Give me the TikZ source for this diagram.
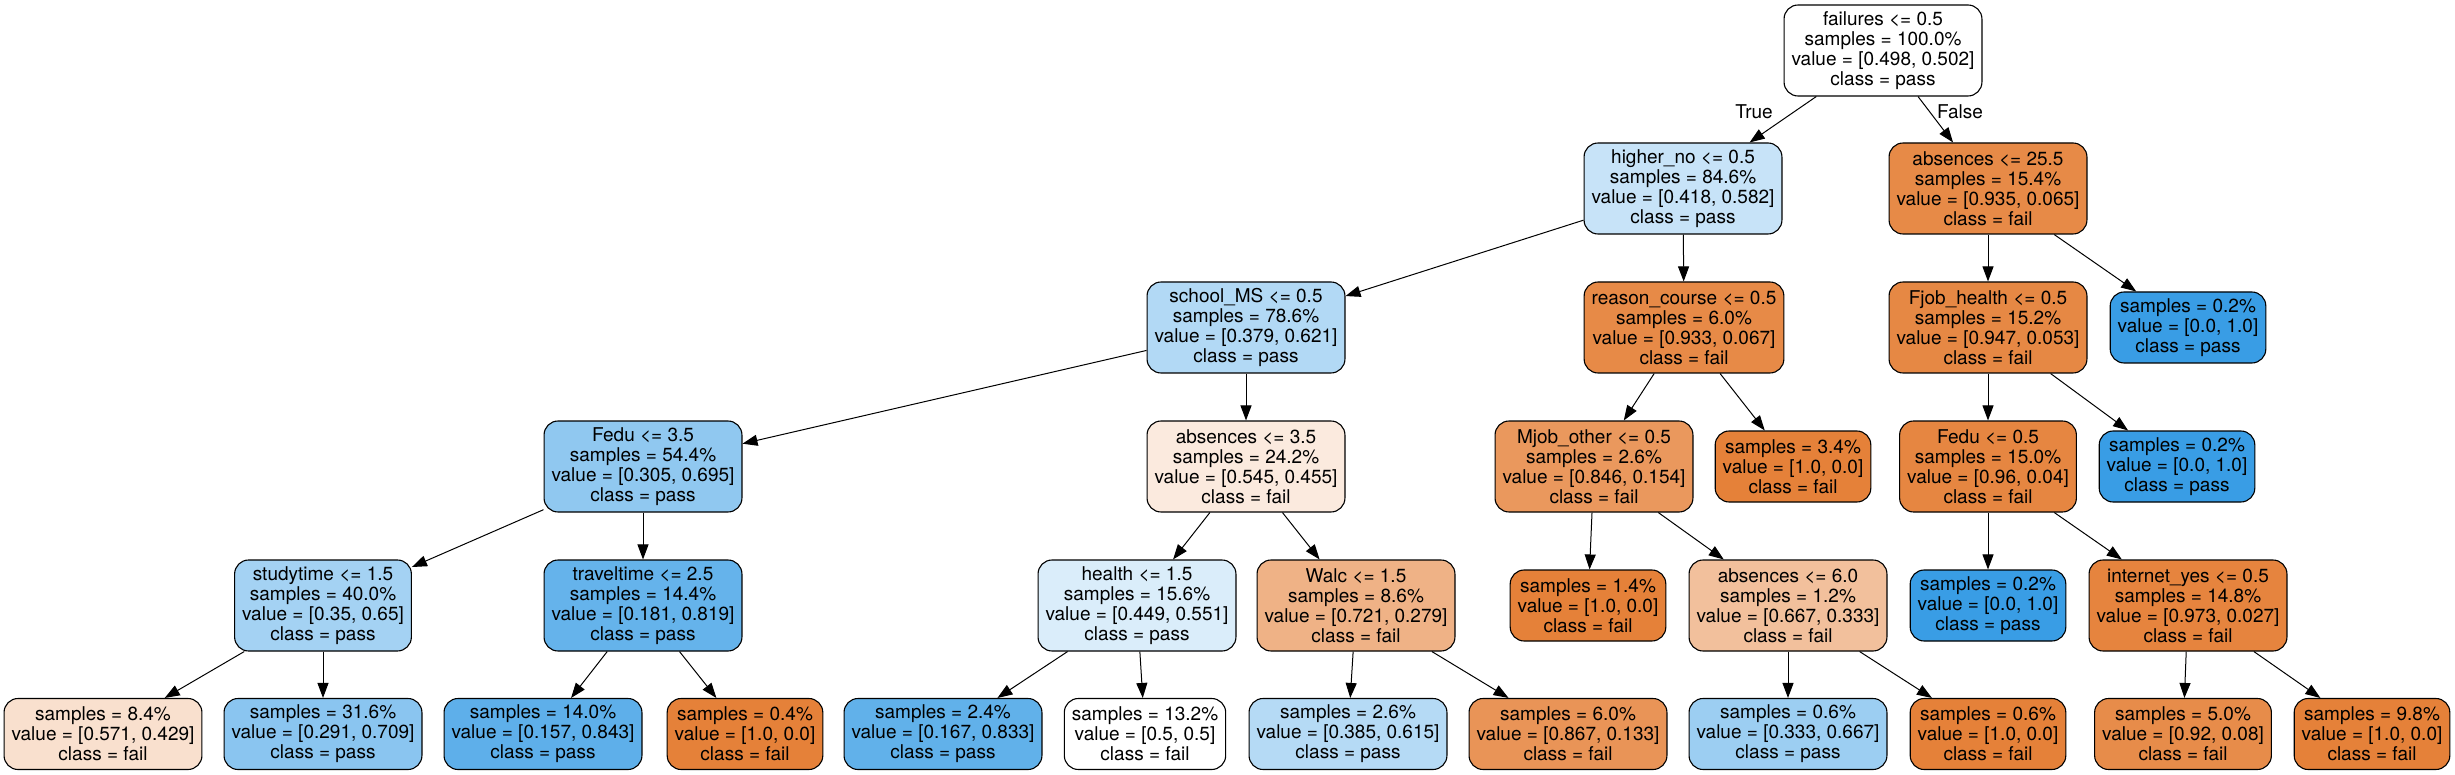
\documentclass[tikz,border=0pt]{standalone}
\usepackage{fontspec}
\setmainfont{TeX Gyre Heros}
\usetikzlibrary{arrows.meta}
\definecolor{cW}{RGB}{255,255,255}
\definecolor{cHigh}{RGB}{199,227,248}
\definecolor{cAbsA}{RGB}{231,138,71}
\definecolor{cSch}{RGB}{178,217,245}
\definecolor{cReas}{RGB}{231,138,71}
\definecolor{cFjob}{RGB}{230,136,68}
\definecolor{cBlue}{RGB}{57,157,229}
\definecolor{cOr}{RGB}{229,129,57}
\definecolor{cFeduA}{RGB}{144,200,240}
\definecolor{cAbsB}{RGB}{251,234,222}
\definecolor{cMjob}{RGB}{234,152,93}
\definecolor{cFeduB}{RGB}{230,134,65}
\definecolor{cStudy}{RGB}{164,210,243}
\definecolor{cTravel}{RGB}{101,179,235}
\definecolor{cHealth}{RGB}{218,237,250}
\definecolor{cWalc}{RGB}{239,178,134}
\definecolor{cAbsC}{RGB}{242,192,156}
\definecolor{cInet}{RGB}{230,132,62}
\definecolor{cLa}{RGB}{249,224,206}
\definecolor{cLb}{RGB}{138,197,240}
\definecolor{cLc}{RGB}{94,175,234}
\definecolor{cLd}{RGB}{97,177,234}
\definecolor{cLe}{RGB}{181,218,245}
\definecolor{cLf}{RGB}{233,148,87}
\definecolor{cLg}{RGB}{156,206,242}
\definecolor{cLh}{RGB}{231,140,74}
\tikzset{
  tfont/.style={font=\fontsize{19}{20}\selectfont},
  tn/.style={draw=black, line width=1.1pt, rounded corners=14pt, align=center,
    inner xsep=7.5pt, inner ysep=2pt, tfont},
  dnode/.style={tn, minimum height=91pt},
  lnode/.style={tn, minimum height=71pt},
  conn/.style={-{Triangle[length=15pt,width=11pt]}, line width=1pt, draw=black}
}
\begin{document}
\begin{tikzpicture}[x=1pt,y=1pt]
\useasboundingbox[fill=white] (0,0) rectangle (2455,-775);
% level 0
\node[dnode, fill=cW] (n0) at (1883,-50.5) {failures <= 0.5\\samples = 100.0\%\\value = [0.498, 0.502]\\class = pass};
% level 1
\node[dnode, fill=cHigh] (n1) at (1683,-188.5) {higher\_no <= 0.5\\samples = 84.6\%\\value = [0.418, 0.582]\\class = pass};
\node[dnode, fill=cAbsA] (n2) at (1988,-188.5) {absences <= 25.5\\samples = 15.4\%\\value = [0.935, 0.065]\\class = fail};
% level 2
\node[dnode, fill=cSch] (n3) at (1246,-327.5) {school\_MS <= 0.5\\samples = 78.6\%\\value = [0.379, 0.621]\\class = pass};
\node[dnode, fill=cReas] (n4) at (1684,-327.5) {reason\_course <= 0.5\\samples = 6.0\%\\value = [0.933, 0.067]\\class = fail};
\node[dnode, fill=cFjob] (n5) at (1988,-327.5) {Fjob\_health <= 0.5\\samples = 15.2\%\\value = [0.947, 0.053]\\class = fail};
\node[lnode, fill=cBlue] (n6) at (2188,-327.5) {samples = 0.2\%\\value = [0.0, 1.0]\\class = pass};
% level 3
\node[dnode, fill=cFeduA] (n7) at (643,-466.5) {Fedu <= 3.5\\samples = 54.4\%\\value = [0.305, 0.695]\\class = pass};
\node[dnode, fill=cAbsB] (n8) at (1246,-466.5) {absences <= 3.5\\samples = 24.2\%\\value = [0.545, 0.455]\\class = fail};
\node[dnode, fill=cMjob] (n9) at (1594,-466.5) {Mjob\_other <= 0.5\\samples = 2.6\%\\value = [0.846, 0.154]\\class = fail};
\node[lnode, fill=cOr] (n10) at (1793,-466.5) {samples = 3.4\%\\value = [1.0, 0.0]\\class = fail};
\node[dnode, fill=cFeduB] (n11) at (1988,-466.5) {Fedu <= 0.5\\samples = 15.0\%\\value = [0.96, 0.04]\\class = fail};
\node[lnode, fill=cBlue] (n12) at (2177,-466.5) {samples = 0.2\%\\value = [0.0, 1.0]\\class = pass};
% level 4
\node[dnode, fill=cStudy] (n13) at (323,-605.5) {studytime <= 1.5\\samples = 40.0\%\\value = [0.35, 0.65]\\class = pass};
\node[dnode, fill=cTravel] (n14) at (643,-605.5) {traveltime <= 2.5\\samples = 14.4\%\\value = [0.181, 0.819]\\class = pass};
\node[dnode, fill=cHealth] (n15) at (1137,-605.5) {health <= 1.5\\samples = 15.6\%\\value = [0.449, 0.551]\\class = pass};
\node[dnode, fill=cWalc] (n16) at (1356,-605.5) {Walc <= 1.5\\samples = 8.6\%\\value = [0.721, 0.279]\\class = fail};
\node[lnode, fill=cOr] (n17) at (1588,-605.5) {samples = 1.4\%\\value = [1.0, 0.0]\\class = fail};
\node[dnode, fill=cAbsC] (n18) at (1788,-605.5) {absences <= 6.0\\samples = 1.2\%\\value = [0.667, 0.333]\\class = fail};
\node[lnode, fill=cBlue] (n19) at (1988,-605.5) {samples = 0.2\%\\value = [0.0, 1.0]\\class = pass};
\node[dnode, fill=cInet] (n20) at (2188,-605.5) {internet\_yes <= 0.5\\samples = 14.8\%\\value = [0.973, 0.027]\\class = fail};
% level 5
\node[lnode, fill=cLa] (n21) at (103,-734) {samples = 8.4\%\\value = [0.571, 0.429]\\class = fail};
\node[lnode, fill=cLb] (n22) at (323,-734) {samples = 31.6\%\\value = [0.291, 0.709]\\class = pass};
\node[lnode, fill=cLc] (n23) at (543,-734) {samples = 14.0\%\\value = [0.157, 0.843]\\class = pass};
\node[lnode, fill=cOr] (n24) at (745,-734) {samples = 0.4\%\\value = [1.0, 0.0]\\class = fail};
\node[lnode, fill=cLd] (n25) at (943,-734) {samples = 2.4\%\\value = [0.167, 0.833]\\class = pass};
\node[lnode, fill=cW] (n26) at (1145,-734) {samples = 13.2\%\\value = [0.5, 0.5]\\class = fail};
\node[lnode, fill=cLe] (n27) at (1348,-734) {samples = 2.6\%\\value = [0.385, 0.615]\\class = pass};
\node[lnode, fill=cLf] (n28) at (1568,-734) {samples = 6.0\%\\value = [0.867, 0.133]\\class = fail};
\node[lnode, fill=cLg] (n29) at (1788,-734) {samples = 0.6\%\\value = [0.333, 0.667]\\class = pass};
\node[lnode, fill=cOr] (n30) at (1988,-734) {samples = 0.6\%\\value = [1.0, 0.0]\\class = fail};
\node[lnode, fill=cLh] (n31) at (2183,-734) {samples = 5.0\%\\value = [0.92, 0.08]\\class = fail};
\node[lnode, fill=cOr] (n32) at (2372,-734) {samples = 9.8\%\\value = [1.0, 0.0]\\class = fail};
% edges
\draw[conn] (n0) -- (n1);
\draw[conn] (n0) -- (n2);
\draw[conn] (n1) -- (n3);
\draw[conn] (n1) -- (n4);
\draw[conn] (n2) -- (n5);
\draw[conn] (n2) -- (n6);
\draw[conn] (n3) -- (n7);
\draw[conn] (n3) -- (n8);
\draw[conn] (n4) -- (n9);
\draw[conn] (n4) -- (n10);
\draw[conn] (n5) -- (n11);
\draw[conn] (n5) -- (n12);
\draw[conn] (n7) -- (n13);
\draw[conn] (n7) -- (n14);
\draw[conn] (n8) -- (n15);
\draw[conn] (n8) -- (n16);
\draw[conn] (n9) -- (n17);
\draw[conn] (n9) -- (n18);
\draw[conn] (n11) -- (n19);
\draw[conn] (n11) -- (n20);
\draw[conn] (n13) -- (n21);
\draw[conn] (n13) -- (n22);
\draw[conn] (n14) -- (n23);
\draw[conn] (n14) -- (n24);
\draw[conn] (n15) -- (n25);
\draw[conn] (n15) -- (n26);
\draw[conn] (n16) -- (n27);
\draw[conn] (n16) -- (n28);
\draw[conn] (n18) -- (n29);
\draw[conn] (n18) -- (n30);
\draw[conn] (n20) -- (n31);
\draw[conn] (n20) -- (n32);
% edge labels
\node[tfont] (tlab) at (1754,-112) {True};
\node[tfont] (flab) at (1960,-112) {False};
\end{tikzpicture}
\end{document}
